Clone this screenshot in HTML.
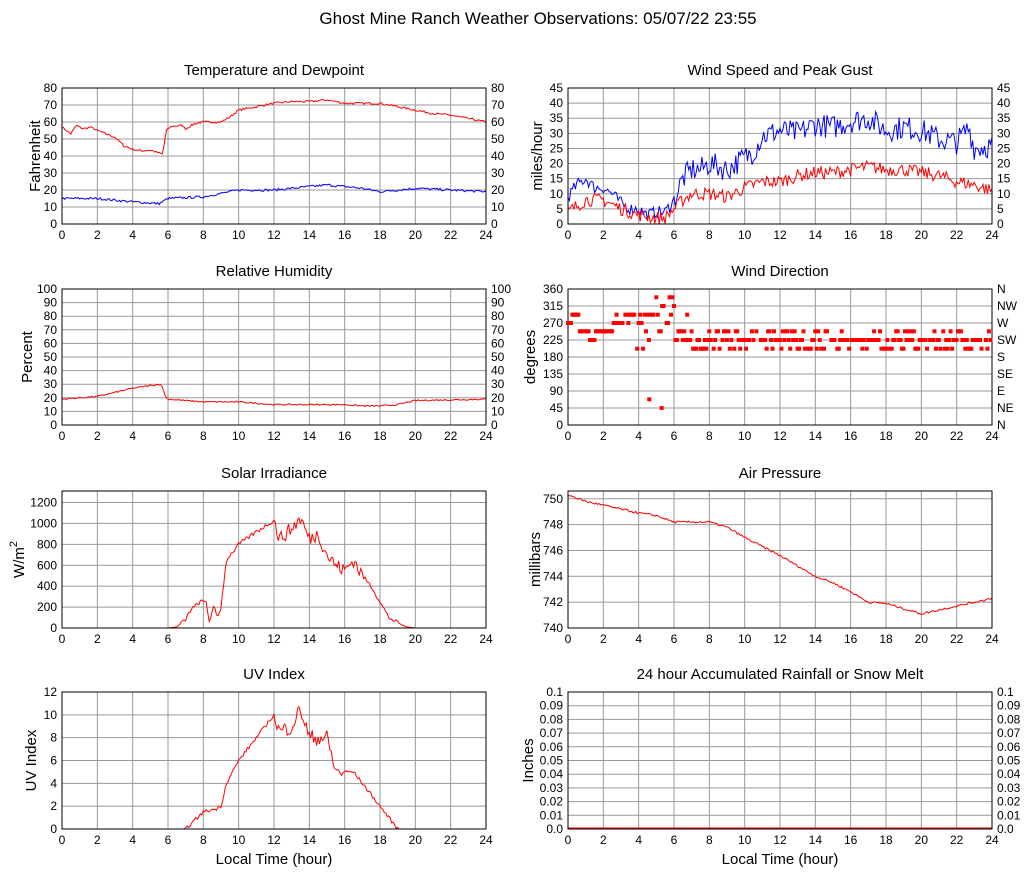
<!DOCTYPE html>
<html><head><meta charset="utf-8"><style>
body{margin:0;background:#fff}
svg{display:block;font-family:"Liberation Sans",sans-serif}
</style></head><body>
<svg id="s" width="1027" height="878" xmlns="http://www.w3.org/2000/svg">
<rect width="1027" height="878" fill="#fff"/>
<text x="538" y="24" font-size="17" text-anchor="middle">Ghost Mine Ranch Weather Observations: 05/07/22 23:55</text>
</svg>
<script>
const S=document.getElementById('s');const NS='http://www.w3.org/2000/svg';
function el(t,a,txt){const e=document.createElementNS(NS,t);for(const k in a)e.setAttribute(k,a[k]);if(txt!==undefined)e.textContent=txt;S.appendChild(e);return e;}
let seed=7;function rnd(){seed=(seed*16807)%2147483647;return seed/2147483647;}
function interp(k,h){for(let i=0;i<k.length-1;i++){if(h>=k[i][0]&&h<=k[i+1][0]){const t=(h-k[i][0])/(k[i+1][0]-k[i][0]||1);return k[i][1]+t*(k[i+1][1]-k[i][1]);}}return k[k.length-1][1];}
function panel(o){
 const {x0,x1,y0,y1,min,max,ticks,title,ylab,right}=o;
 const X=h=>x0+(x1-x0)*h/24,Y=v=>y1-(y1-y0)*(v-min)/(max-min);
 for(let h=2;h<24;h+=2)el('line',{x1:X(h),x2:X(h),y1:y0,y2:y1,stroke:'#999','stroke-width':1});
 ticks.forEach((t,i)=>{const y=Y(t);if(y>y0+1&&y<y1-1)el('line',{x1:x0,x2:x1,y1:y,y2:y,stroke:'#999','stroke-width':1});
  el('text',{x:x0-5,y:y+4,'font-size':12,'text-anchor':'end'},o.tl?o.tl[i]:t);
  if(right)el('text',{x:x1+5,y:y+4,'font-size':12},right[i]);});
 for(let h=0;h<=24;h+=2)el('text',{x:X(h),y:y1+15,'font-size':12,'text-anchor':'middle'},h);
 el('text',{x:(x0+x1)/2,y:y0-13,'font-size':15,'text-anchor':'middle'},title);
 const yl=el('text',{x:0,y:0,'font-size':15,'text-anchor':'middle',transform:`translate(${o.ylx},${(y0+y1)/2}) rotate(-90)`},ylab);
 if(o.sup){yl.textContent='W/m';const s=document.createElementNS(NS,'tspan');s.setAttribute('dy','-7');s.setAttribute('font-size','11');s.textContent='2';yl.appendChild(s);}
 if(o.bottom)el('text',{x:(x0+x1)/2,y:864,'font-size':15,'text-anchor':'middle'},'Local Time (hour)');
 o.X=X;o.Y=Y;return o;}
function frame(o){el('rect',{x:o.x0,y:o.y0,width:o.x1-o.x0,height:o.y1-o.y0,fill:'none',stroke:'#000','stroke-width':1});}
function line(o,k,noise,col,step,clampMin){let d='';step=step||0.0833;for(let h=0;h<=24.001;h+=step){let v=interp(k,h)+(rnd()-0.5)*2*(typeof noise=='function'?noise(h):noise);if(clampMin!==undefined)v=Math.max(clampMin,v);d+=(d?'L':'M')+o.X(h).toFixed(1)+','+o.Y(v).toFixed(1);}el('path',{d,fill:'none',stroke:col,'stroke-width':1});}
const L=[62,486],R=[568,992];
const r1=[88,224],r2=[289,425],r3=[491,628],r4=[692,829];
const t10=[0,10,20,30,40,50,60,70,80];
let p=panel({x0:L[0],x1:L[1],y0:r1[0],y1:r1[1],min:0,max:80,ticks:t10,right:t10,title:'Temperature and Dewpoint',ylab:'Fahrenheit',ylx:40});
line(p,[[0,57],[0.5,53],[0.8,58],[1.2,56],[1.6,57],[2,55],[2.5,53],[3,51],[3.5,46],[4,44],[4.5,43],[5,43.5],[5.7,41],[5.9,55],[6.2,57.5],[6.8,58],[7,56],[7.5,59],[8,60],[9,60],[9.5,63],[10,67],[11,69],[12,71],[13,72],[14,72],[15,73],[16,71],[17,71],[18,71],[19,69],[20,67],[21,65],[22,64],[23,62],[24,60]],0.6,'#f00');
line(p,[[0,15],[2,15],[3,14],[4,13],[5.5,12],[6,15],[8,16],[10,20],[12,20],[15,23],[17,21],[18,19],[20,21],[22,20],[24,19]],0.7,'#00f');frame(p);
const w5=[0,5,10,15,20,25,30,35,40,45];
p=panel({x0:R[0],x1:R[1],y0:r1[0],y1:r1[1],min:0,max:45,ticks:w5,right:w5,title:'Wind Speed and Peak Gust',ylab:'miles/hour',ylx:542});
line(p,[[0,9],[0.5,13],[1,15],[1.5,12],[2,12],[2.5,10],[3,7],[3.5,5],[4,5],[4.5,3],[5,4],[5.5,4],[6,8],[6.5,15],[7,18],[7.5,18],[8,20],[9,18],[10,22],[10.5,24],[11,29],[12,31],[13,30],[14,33],[15,32],[16,34],[17,35],[18,31],[19,32],[20,31],[21,28],[22,27],[22.7,32],[23,25],[24,26]],h=>h<6?2:4,'#00f',0.0833,0);
line(p,[[0,4],[1,8],[2,8],[3,5],[4,3],[5,2],[5.5,2],[6,5],[6.5,8],[7,10],[8,10],[9,9],[10,12],[11,14],[12,14],[13,16],[14,17],[15,17],[16,18],[17,19],[18,18],[19,18],[20,17],[21,16],[22,14],[23,13],[24,11]],2.2,'#f00',0.0833,0);frame(p);
const t100=[0,10,20,30,40,50,60,70,80,90,100];
p=panel({x0:L[0],x1:L[1],y0:r2[0],y1:r2[1],min:0,max:100,ticks:t100,right:t100,title:'Relative Humidity',ylab:'Percent',ylx:32});
line(p,[[0,19],[1,20],[2,21],[3,24],[4,27],[5,29],[5.6,30],[5.9,20],[6,19],[8,17],[10,17],[12,15],[14,15],[16,15],[17,14],[18,14],[19,15],[20,18],[24,19]],0.5,'#f00');frame(p);
const dt=[0,45,90,135,180,225,270,315,360];
p=panel({x0:R[0],x1:R[1],y0:r2[0],y1:r2[1],min:0,max:360,ticks:dt,right:['N','NE','E','SE','S','SW','W','NW','N'],title:'Wind Direction',ylab:'degrees',ylx:535});
frame(p);
function dirAt(h){const r=rnd();
 if(h<0.2)return 270;if(h<0.6)return 292;if(h<1.2)return 248;if(h<1.5)return 225;if(h<2.5)return 248;
 if(h<4.4)return r<0.5?270:(r<0.9?292:(r<0.95?248:202));
 if(h<6)return r<0.3?292:(r<0.5?315:(r<0.6?338:(r<0.8?270:(r<0.9?248:225))));
 if(h<7)return r<0.6?225:(r<0.9?248:292);
 return r<0.55?225:(r<0.8?202:248);}
for(let h=0;h<24;h+=0.0833){if(rnd()<0.12)continue;const v=dirAt(h);el('rect',{x:p.X(h)-2,y:p.Y(v)-2,width:4,height:4,fill:'#f00'});}
[[4.6,68],[5.3,45]].forEach(a=>el('rect',{x:p.X(a[0])-2,y:p.Y(a[1])-2,width:4,height:4,fill:'#f00'}));
p=panel({x0:L[0],x1:L[1],y0:r3[0],y1:r3[1],min:0,max:1310,ticks:[0,200,400,600,800,1000,1200],title:'Solar Irradiance',ylab:'',sup:1,ylx:24});
line(p,[[0,0],[6,0],[6.5,10],[7,80],[7.3,180],[7.5,200],[7.8,250],[8.2,250],[8.3,50],[8.6,200],[8.8,100],[9,200],[9.3,650],[10,800],[11,920],[12,1030],[12.3,850],[13,950],[13.5,1050],[14,850],[14.5,900],[15,700],[15.5,600],[16,550],[16.5,650],[17,500],[17.5,400],[18,250],[18.5,100],[19,50],[19.5,10],[20,0],[24,0]],h=>(h>12&&h<17)?70:(h>6.5&&h<19?20:0),'#f00',0.0833,0);frame(p);
p=panel({x0:R[0],x1:R[1],y0:r3[0],y1:r3[1],min:740,max:750.6,ticks:[740,742,744,746,748,750],title:'Air Pressure',ylab:'millibars',ylx:540});
line(p,[[0,750.3],[1,749.8],[2,749.5],[3,749.2],[4,748.9],[5,748.7],[6,748.2],[8,748.2],[9,747.8],[10,747],[11,746.3],[12,745.6],[13,744.8],[14,744],[15,743.5],[16,742.8],[17,742],[18,741.9],[19,741.5],[20,741.1],[21,741.4],[22,741.7],[23,742],[24,742.3]],0.08,'#f00');frame(p);
p=panel({x0:L[0],x1:L[1],y0:r4[0],y1:r4[1],min:0,max:12,ticks:[0,2,4,6,8,10,12],title:'UV Index',ylab:'UV Index',ylx:36,bottom:1});
line(p,[[0,0],[6.9,0],[7.2,0.3],[8,1.5],[8.8,1.8],[9,2],[9.3,4],[10,6],[11,8],[12,10],[12.3,8.5],[13,9],[13.5,10.5],[14,8],[15,8],[15.5,5],[16.5,5],[17,4],[18,2],[19,0],[24,0]],h=>(h>12&&h<16)?0.7:(h>7&&h<19?0.15:0),'#f00',0.0833,0);frame(p);
const rt=[0,0.01,0.02,0.03,0.04,0.05,0.06,0.07,0.08,0.09,0.1];
const rl=['0.0','0.01','0.02','0.03','0.04','0.05','0.06','0.07','0.08','0.09','0.1'];
p=panel({x0:R[0],x1:R[1],y0:r4[0],y1:r4[1],min:0,max:0.1,ticks:rt,tl:rl,right:rl,title:'24 hour Accumulated Rainfall or Snow Melt',ylab:'Inches',ylx:533,bottom:1});
el('line',{x1:R[0],x2:R[1],y1:r4[1]-1,y2:r4[1]-1,stroke:'#f00','stroke-width':1});frame(p);
</script>
</body></html>
